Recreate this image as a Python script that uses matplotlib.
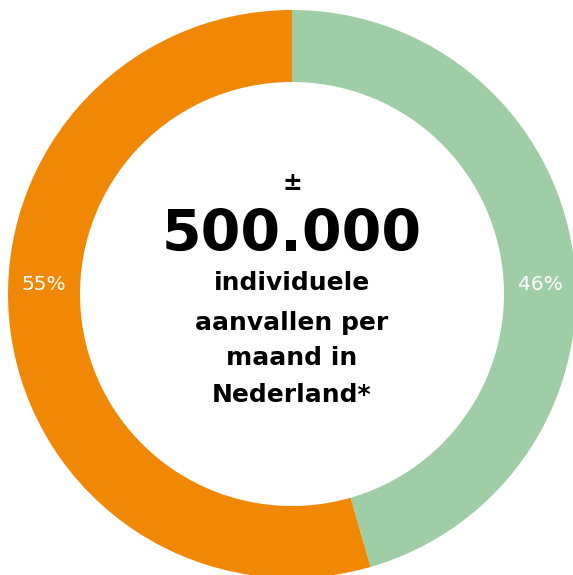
import matplotlib.pyplot as plt

# data
labels = ["46%", "55%"]
values = [46, 55]
colors = ["#9FCDA5", "#F18805"]
title_lines = ["individuele", "aanvallen per", "maand in", "Nederland*"]

fig = plt.figure(figsize=(5.73, 5.75), dpi=100)
ax = fig.add_axes([0, 0, 1, 1])

cx, cy = 292, 281
r_out, r_in = 284, 212

ax.pie(values, colors=colors, startangle=90, counterclock=False,
       center=(cx, cy), radius=r_out, frame=True,
       wedgeprops=dict(width=r_out - r_in, edgecolor="none"))
ax.set_xlim(0, 573)
ax.set_ylim(0, 575)
ax.set_aspect("equal")
ax.axis("off")

# percentage labels on the ring, left and right
r_mid = (r_out + r_in) / 2
ax.text(cx + r_mid, cy + 9, labels[0], color="white", fontsize=14.5,
        ha="center", va="center")
ax.text(cx - r_mid, cy + 9, labels[1], color="white", fontsize=14.5,
        ha="center", va="center")

# centre text
ax.text(cx, 392, "±", fontsize=17, fontweight="bold", ha="center", va="center")
ax.text(cx, 340, "500.000", fontsize=41, fontweight="bold", ha="center", va="center")
ys = [292, 252, 217, 180]
for txt, y in zip(title_lines, ys):
    ax.text(cx, y, txt, fontsize=18, fontweight="bold", ha="center", va="center")

fig.savefig("out.png", dpi=100)
